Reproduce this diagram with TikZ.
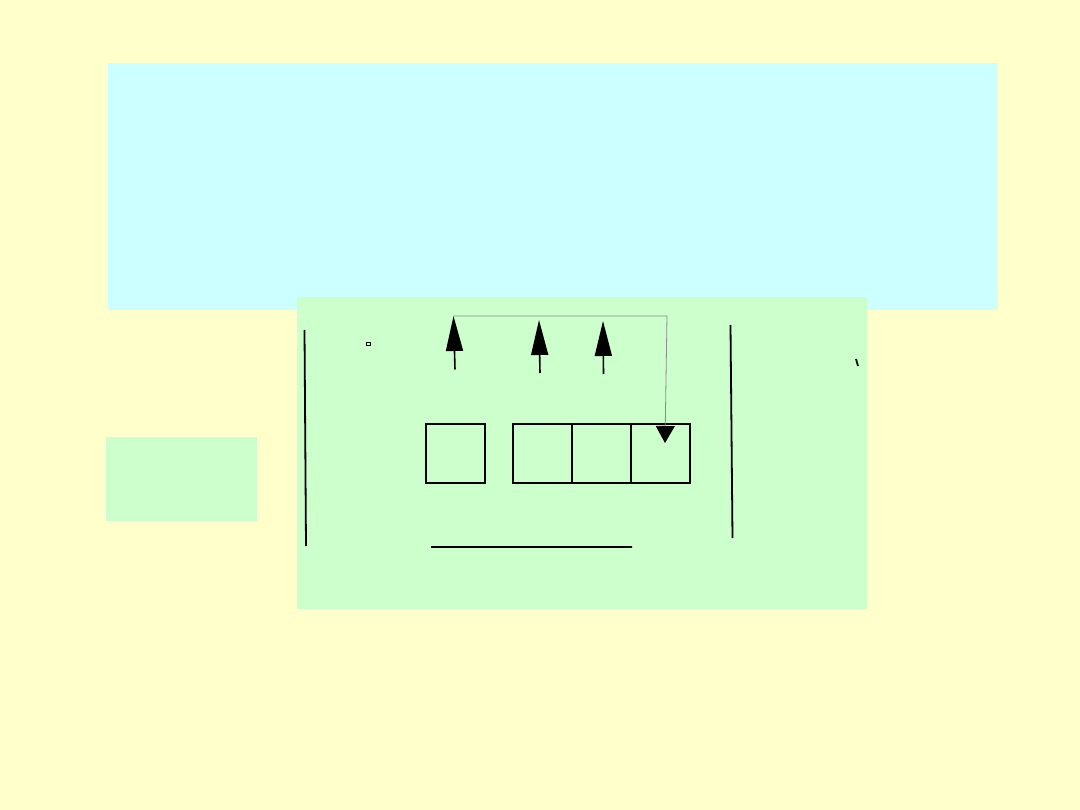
\documentclass[tikz,border=0pt]{standalone}
\usetikzlibrary{arrows.meta,positioning}
\definecolor{paleyellow}{HTML}{FFFFCC}
\definecolor{palecyan}{HTML}{CCFFFF}
\definecolor{palegreen}{HTML}{CCFFCC}
\begin{document}
\begin{tikzpicture}[x=1pt, y=-1pt,
        cell/.style = {draw, line width = 1.5pt, minimum size = 59pt, inner sep = 0pt, outer sep = 0pt},
        bar/.style = {line width = 1.8pt},
        uparrow/.style = {line width = 1.6pt, -{Triangle[length = 35pt, width = 17pt]}},
        link/.style = {line width = 0.8pt, draw = black!45, -{Triangle[length = 17pt, width = 19pt, color = black, fill = black]}}]
            \fill [paleyellow] (0, 0) rectangle (1080, 810);
            \useasboundingbox (0, 0) rectangle (1080, 810);
            \fill [palecyan] (108, 63) rectangle (998, 310);
            \fill [palegreen] (297, 297) rectangle (867, 609);
            \fill [palegreen] (106, 437) rectangle (257, 521);

            \node [cell] (lone) at (455.5, 453.5) {};
            \node [cell] (first) at (542.5, 453.5) {};
            \node [cell, right = 0pt of first] (second) {};
            \node [cell, right = 0pt of second] (third) {};

            \draw [bar]
            (304.5, 330) coordinate (L1) -- (306, 546) coordinate (L2)
            (730.5, 325) coordinate (R1) -- (732.5, 538) coordinate (R2)
            (431, 547) coordinate (B1) -- (632, 547) coordinate (B2)
            (856, 359) coordinate (T1) -- (858, 366) coordinate (T2)
            ;
            \draw [line width = 1pt] (366.5, 342.5) rectangle (370, 346);

            \draw [uparrow] (455, 369.5) -- (453.5, 316) coordinate (tipA);
            \draw [uparrow] (540, 373) -- (539, 320) coordinate (tipB);
            \draw [uparrow] (603.5, 374) -- (603, 321) coordinate (tipC);

            \draw [link] (tipA) -- (667, 316) coordinate (bend) -- (665, 443) coordinate (tipD);
        \end{tikzpicture}
\end{document}
